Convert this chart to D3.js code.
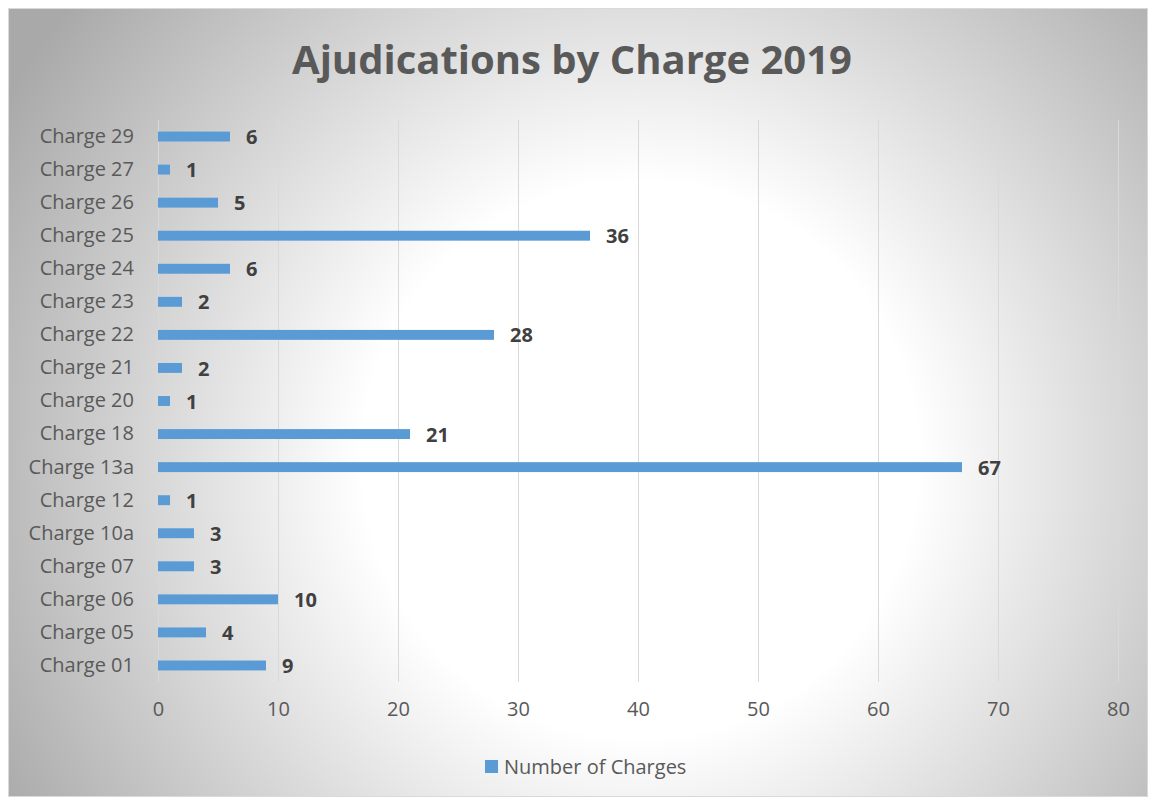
<!DOCTYPE html>
<html><head><meta charset="utf-8">
<script src="https://cdn.jsdelivr.net/npm/d3@7"></script>
<style>body{margin:0;background:#fff}svg{display:block}</style>
</head><body>
<svg id="c" width="1149" height="798"></svg>
<script>
const categories = ["Charge 29","Charge 27","Charge 26","Charge 25","Charge 24","Charge 23","Charge 22","Charge 21","Charge 20","Charge 18","Charge 13a","Charge 12","Charge 10a","Charge 07","Charge 06","Charge 05","Charge 01"];
const values = [6,1,5,36,6,2,28,2,1,21,67,1,3,3,10,4,9];
const xTicks = [0,10,20,30,40,50,60,70,80];
const seriesName = "Number of Charges";
const title = "Ajudications by Charge 2019";

const svg = d3.select("#c");
const font = "'Open Sans', sans-serif";
const defs = svg.append("defs");
const g = defs.append("radialGradient").attr("id","bg").attr("gradientUnits","userSpaceOnUse")
  .attr("cx",640).attr("cy",460).attr("r",730);
g.append("stop").attr("offset","0").attr("stop-color","#ffffff");
g.append("stop").attr("offset","0.38").attr("stop-color","#ffffff");
g.append("stop").attr("offset","1").attr("stop-color","#a9a9a9");

svg.append("rect").attr("x",8.5).attr("y",8.5).attr("width",1139).attr("height",788)
  .attr("fill","url(#bg)").attr("stroke","#d9d9d9").attr("stroke-width",1);

const x = d3.scaleLinear().domain([0,80]).range([158,1118]);
const y = d3.scaleBand().domain(categories).range([120,682]).paddingInner(0.7).paddingOuter(0.35);

svg.append("g").selectAll("line").data(xTicks).join("line")
  .attr("x1",d=>x(d)+0.5).attr("x2",d=>x(d)+0.5).attr("y1",120).attr("y2",682)
  .attr("stroke","#d9d9d9").attr("stroke-width",1);

const xa = svg.append("g").attr("transform","translate(0,682)")
  .call(d3.axisBottom(x).tickValues(xTicks).tickSize(0).tickPadding(20));
xa.select(".domain").remove();
xa.selectAll("text").attr("font-family",font).attr("font-size",20).attr("fill","#595959");

const ya = svg.append("g").attr("transform","translate(158,0)")
  .call(d3.axisLeft(y).tickSize(0).tickPadding(24));
ya.select(".domain").remove();
ya.selectAll("text").attr("font-family",font).attr("font-size",20).attr("fill","#595959");

svg.append("g").selectAll("rect").data(categories).join("rect")
  .attr("x",x(0)).attr("y",(d)=>y(d)).attr("height",y.bandwidth())
  .attr("width",(d,i)=>x(values[i])-x(0)).attr("fill","#5b9bd5");

svg.append("g").selectAll("text").data(categories).join("text")
  .attr("x",(d,i)=>x(values[i])+16).attr("y",d=>y(d)+y.bandwidth()/2).attr("dy","0.38em")
  .attr("font-family",font).attr("font-size",20).attr("font-weight","bold").attr("fill","#404040")
  .text((d,i)=>values[i]);

svg.append("text").attr("x",572).attr("y",74).attr("text-anchor","middle")
  .attr("font-family",font).attr("font-size",40).attr("font-weight","bold").attr("fill","#595959")
  .text(title);

svg.append("rect").attr("x",485).attr("y",760).attr("width",13).attr("height",13).attr("fill","#5b9bd5");
svg.append("text").attr("x",504).attr("y",767).attr("dy","0.35em")
  .attr("font-family",font).attr("font-size",20).attr("fill","#595959").text(seriesName);
</script>
</body></html>
